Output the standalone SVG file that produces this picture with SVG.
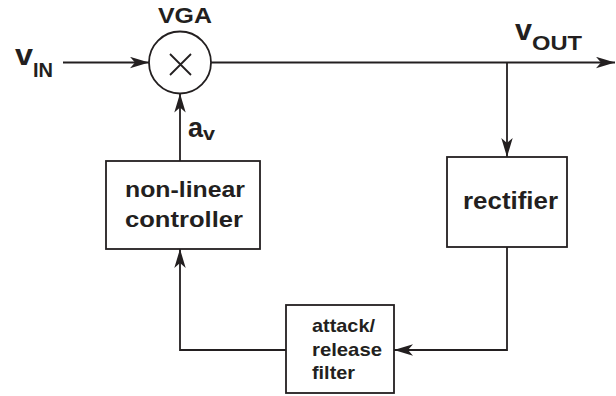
<svg xmlns="http://www.w3.org/2000/svg" width="616" height="396" viewBox="0 0 616 396">
  <style>
    .ln { fill: none; stroke: #231f20; stroke-width: 1.8; }
    .box { fill: #ffffff; stroke: #231f20; stroke-width: 1.8; }
    .t { font-family: "Liberation Sans", Arial, sans-serif; font-weight: bold; fill: #231f20; }
  </style>
  <defs>
    <marker id="arr" markerUnits="userSpaceOnUse" markerWidth="19" markerHeight="12" refX="19" refY="6" orient="auto">
      <path d="M0,0.3 L19,6 L0,11.7 L5,6 z" fill="#231f20"/>
    </marker>
  </defs>
  <rect width="616" height="396" fill="#ffffff"/>

  <g id="connectors">
    <path class="ln" d="M63,62.5 H149" marker-end="url(#arr)"/>
    <path class="ln" d="M211,62.5 H615" marker-end="url(#arr)"/>
    <path class="ln" d="M507,62.5 V157" marker-end="url(#arr)"/>
    <path class="ln" d="M507,247 V350 H394" marker-end="url(#arr)"/>
    <path class="ln" d="M286,350 H180 V249" marker-end="url(#arr)"/>
    <path class="ln" d="M180,161 V93.5" marker-end="url(#arr)"/>
  </g>

  <g id="vin">
    <text class="t" x="15" y="65" font-size="29" textLength="18" lengthAdjust="spacingAndGlyphs">v</text>
    <text class="t" x="33" y="77" font-size="20.5" textLength="20" lengthAdjust="spacingAndGlyphs">IN</text>
  </g>

  <g id="vga">
    <circle class="box" cx="180" cy="62.5" r="31"/>
    <path class="ln" d="M170,54 L191,75 M191,54 L170,75" stroke-width="1.4"/>
    <text class="t" x="158" y="23" font-size="22.5" textLength="54" lengthAdjust="spacingAndGlyphs">VGA</text>
  </g>

  <g id="vout">
    <text class="t" x="515" y="40" font-size="29" textLength="17" lengthAdjust="spacingAndGlyphs">v</text>
    <text class="t" x="532" y="50" font-size="21" textLength="50" lengthAdjust="spacingAndGlyphs">OUT</text>
  </g>

  <g id="av">
    <text class="t" x="188" y="137" font-size="27" textLength="15" lengthAdjust="spacingAndGlyphs">a</text>
    <text class="t" x="203" y="140" font-size="19" textLength="12" lengthAdjust="spacingAndGlyphs">v</text>
  </g>

  <g id="controller">
    <rect class="box" x="106" y="161" width="154" height="88"/>
    <text class="t" x="125" y="197" font-size="22.5" textLength="120" lengthAdjust="spacingAndGlyphs">non-linear</text>
    <text class="t" x="125" y="227" font-size="22.5" textLength="118" lengthAdjust="spacingAndGlyphs">controller</text>
  </g>

  <g id="rectifier">
    <rect class="box" x="447" y="157" width="120" height="90"/>
    <text class="t" x="463" y="209" font-size="24" textLength="95" lengthAdjust="spacingAndGlyphs">rectifier</text>
  </g>

  <g id="filter">
    <rect class="box" x="286" y="305" width="108" height="88"/>
    <text class="t" x="312" y="332" font-size="19" textLength="63" lengthAdjust="spacingAndGlyphs">attack/</text>
    <text class="t" x="312" y="356" font-size="19" textLength="70" lengthAdjust="spacingAndGlyphs">release</text>
    <text class="t" x="312" y="379" font-size="19" textLength="43" lengthAdjust="spacingAndGlyphs">filter</text>
  </g>
</svg>
